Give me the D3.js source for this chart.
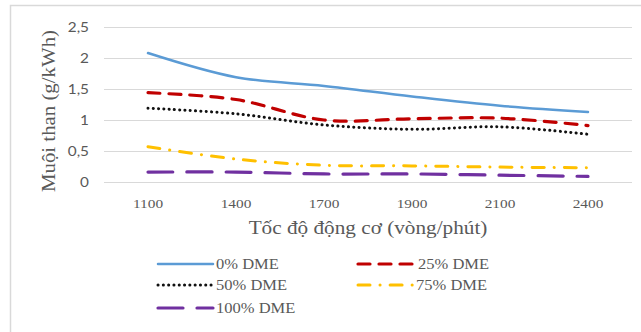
<!DOCTYPE html>
<html>
<head>
<meta charset="utf-8">
<script src="https://cdn.jsdelivr.net/npm/d3@7"></script>
<style>
  body { margin: 0; background: #fff; }
  svg { display: block; font-family: "Liberation Serif", "DejaVu Serif", serif; }
</style>
</head>
<body>
<svg width="641" height="332"></svg>
<script>
const speeds = ["1100", "1400", "1700", "1900", "2100", "2400"]
const yTicks = [0, 0.5, 1, 1.5, 2, 2.5]
const dme0 = [2.08, 1.69, 1.55, 1.38, 1.23, 1.13]
const dme25 = [1.44, 1.33, 1.00, 1.02, 1.03, 0.91]
const dme50 = [1.19, 1.10, 0.92, 0.85, 0.89, 0.77]
const dme75 = [0.57, 0.37, 0.27, 0.26, 0.24, 0.23]
const dme100 = [0.16, 0.16, 0.13, 0.13, 0.11, 0.09]

const series = [
    { name: "0% DME", values: dme0, color: "#5B9BD5", dash: null, width: 2.5 },
    { name: "25% DME", values: dme25, color: "#C00000", dash: "12,9", width: 3.2 },
    { name: "50% DME", values: dme50, color: "#111", dash: "0.1,5.2", width: 3 },
    { name: "75% DME", values: dme75, color: "#FFC000", dash: "12,10,0.1,10", width: 3 },
    { name: "100% DME", values: dme100, color: "#7030A0", dash: "25,14", width: 3.2 }
]

// picture is a bit wider than tall, so text is stretched sideways
const stretch = 1.18
const grijs = "#595959"

const svg = d3.select("svg")

svg.append("path")
    .attr("d", "M10.5,332 V5.5 H641")
    .attr("fill", "none")
    .attr("stroke", "#d9d9d9")
    .attr("stroke-width", 1.5)

const x = d3.scaleBand()
    .domain(speeds)
    .range([104, 632])

const y = d3.scaleLinear()
    .domain([0, 2.5])
    .range([182, 27])

svg.append("g")
    .selectAll("line")
    .data(yTicks)
    .join("line")
    .attr("x1", 104)
    .attr("x2", 632)
    .attr("y1", d => Math.round(y(d)) + 0.5)
    .attr("y2", d => Math.round(y(d)) + 0.5)
    .attr("stroke", "#d9d9d9")

svg.append("g")
    .selectAll("text")
    .data(yTicks)
    .join("text")
    .attr("transform", d => `translate(89,${y(d) + 5}) scale(${stretch},1)`)
    .attr("text-anchor", "end")
    .attr("font-family", "Lato, 'Open Sans', sans-serif")
    .attr("font-size", 13)
    .attr("fill", grijs)
    .text(d => String(d).replace(".", ","))

svg.append("g")
    .selectAll("text")
    .data(speeds)
    .join("text")
    .attr("transform", d => `translate(${x(d) + x.bandwidth() / 2},208) scale(${stretch},1)`)
    .attr("text-anchor", "middle")
    .attr("font-size", 13)
    .attr("fill", grijs)
    .text(d => d)

svg.append("text")
    .attr("transform", `translate(368,234) scale(${stretch},1)`)
    .attr("text-anchor", "middle")
    .attr("font-size", 18)
    .attr("fill", grijs)
    .text("Tốc độ động cơ (vòng/phút)")

svg.append("text")
    .attr("transform", "translate(55,111) rotate(-90)")
    .attr("x", -81)
    .attr("textLength", 162)
    .attr("lengthAdjust", "spacingAndGlyphs")
    .attr("font-size", 19)
    .attr("fill", grijs)
    .text("Muội than (g/kWh)")

const line = d3.line()
    .x((d, i) => x(speeds[i]) + x.bandwidth() / 2)
    .y(d => y(d))
    .curve(d3.curveCatmullRom.alpha(0.5))

svg.append("g")
    .selectAll("path")
    .data(series)
    .join("path")
    .attr("d", d => line(d.values))
    .attr("fill", "none")
    .attr("stroke", d => d.color)
    .attr("stroke-width", d => d.width)
    .attr("stroke-linecap", "round")
    .attr("stroke-dasharray", d => d.dash)

const legendPos = [
    { x: 158, y: 264 },
    { x: 358, y: 264 },
    { x: 158, y: 285 },
    { x: 358, y: 285 },
    { x: 158, y: 308 }
]
const legend = svg.append("g")
    .selectAll("g")
    .data(series)
    .join("g")
    .attr("transform", (d, i) => `translate(${legendPos[i].x},${legendPos[i].y})`)

legend.append("line")
    .attr("x1", 0)
    .attr("x2", 55)
    .attr("stroke", d => d.color)
    .attr("stroke-width", d => d.width)
    .attr("stroke-linecap", "round")
    .attr("stroke-dasharray", d => d.dash)

legend.append("text")
    .attr("transform", (d, i) => `translate(${i === 1 ? 60 : 58},5) scale(${stretch},1)`)
    .attr("font-size", 14)
    .attr("fill", grijs)
    .text(d => d.name)
</script>
</body>
</html>
